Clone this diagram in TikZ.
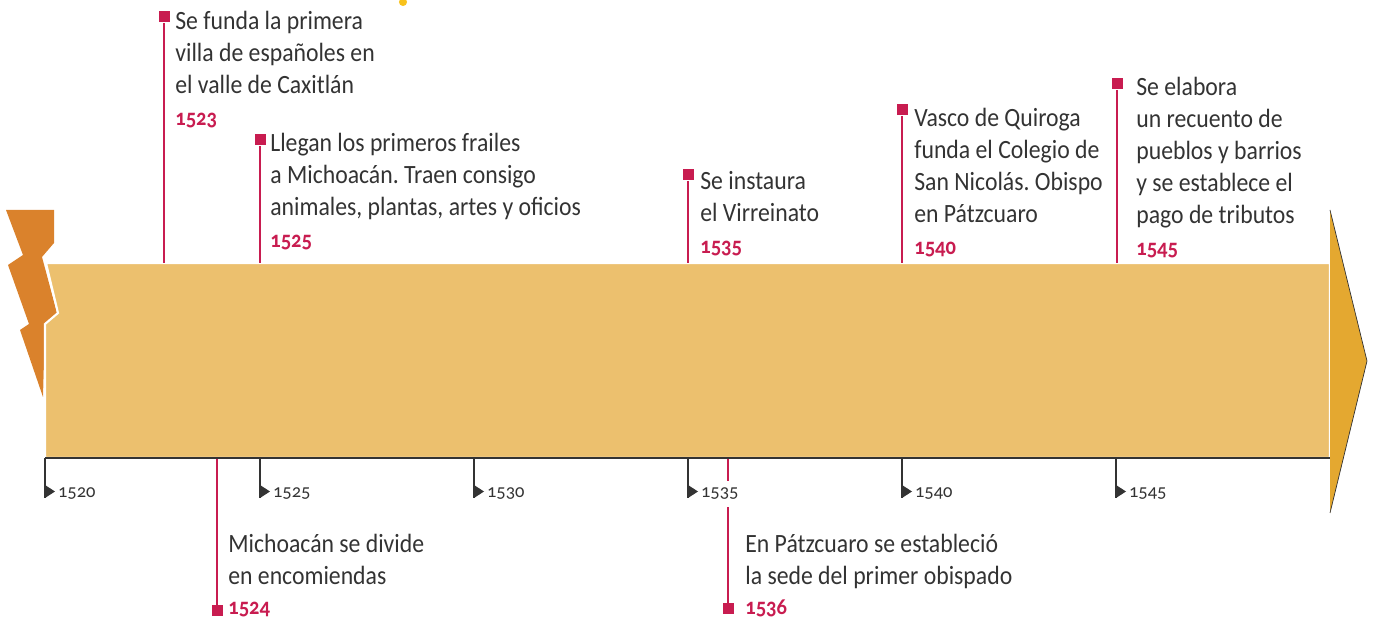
\documentclass[tikz,border=0pt]{standalone}
\usepackage{fontspec}
\setmainfont{Carlito}[Numbers=OldStyle]
\newfontfamily\eventfont{Carlito}[FakeStretch=0.9, Numbers=OldStyle]
\frenchspacing

\definecolor{barfill}{HTML}{ECC06E}
\definecolor{headfill}{HTML}{E4A830}
\definecolor{boltorange}{HTML}{DA822C}
\definecolor{crimson}{HTML}{C81C50}
\definecolor{textgray}{HTML}{333333}
\definecolor{dotyellow}{HTML}{F8C21C}

\tikzset{
  event/.style={anchor=north west, inner sep=0pt, align=left, text=textgray,
    font=\eventfont\fontsize{15}{18.2}\selectfont},
  stem/.style={crimson, line width=1.1pt},
  marker/.style={fill=crimson, inner sep=0pt, minimum size=0.22cm},
  tick/.style={textgray, line width=0.6pt},
  ticklabel/.style={anchor=west, inner xsep=1pt, inner ysep=4pt, fill=white, text=textgray,
    font=\fontsize{10.5}{12}\selectfont},
}
\newcommand{\yr}[1]{{\fontsize{13}{15}\selectfont\bfseries\color{crimson}#1}}

\begin{document}
\begin{tikzpicture}[x=0.02cm, y=-0.02cm]
  \useasboundingbox (0,0) rectangle (1374,621);

  \fill[dotyellow] (403,2) circle (2.3pt);

  % bolt and bar
  \fill[boltorange] (6,210) -- (54,210) -- (54,243) -- (42,257) -- (57,313) -- (45,325)
    -- (43,397) -- (20,330) -- (29,324) -- (8,265) -- (23,255) -- cycle;
  \filldraw[barfill, draw=white, line width=1.2pt] (46,263) -- (1330,263) -- (1330,458)
    -- (45,458) -- (45,324) -- (58,313) -- cycle;
  \draw[textgray, line width=1.1pt] (45,458) -- (1330,458);
  \fill[headfill] (1330,210) -- (1367,361) -- (1330,513) -- cycle;
  \draw[textgray, line width=0.4pt] (1330,210) -- (1367,361) -- (1330,513);

  % events above the bar
  \node[marker] (m1523) at (164,17) {};
  \coordinate (b1523) at (164,263);
  \draw[stem] (m1523) -- (b1523);
  \node[event] (e1523) at (175,11) {Se funda la primera\\villa de españoles en\\el valle de Caxitlán\\[0pt]\yr{1523}};

  \node[marker] (m1525) at (260,140) {};
  \coordinate (b1525) at (260,263);
  \draw[stem] (m1525) -- (b1525);
  \node[event] (e1525) at (270,133) {Llegan los primeros frailes\\a Michoacán. Traen consigo\\animales, plantas, artes y oficios\\[0pt]\yr{1525}};

  \node[marker] (m1535) at (688,175) {};
  \coordinate (b1535) at (688,263);
  \draw[stem] (m1535) -- (b1535);
  \node[event] (e1535) at (700,171) {Se instaura\\el Virreinato\\[0pt]\yr{1535}};

  \node[marker] (m1540) at (902,110) {};
  \coordinate (b1540) at (902,263);
  \draw[stem] (m1540) -- (b1540);
  \node[event] (e1540) at (914,108) {Vasco de Quiroga\\funda el Colegio de\\San Nicolás. Obispo\\en Pátzcuaro\\[0pt]\yr{1540}};

  \node[marker] (m1545) at (1117,84) {};
  \coordinate (b1545) at (1117,263);
  \draw[stem] (m1545) -- (b1545);
  \node[event] (e1545) at (1136,77) {Se elabora\\un recuento de\\pueblos y barrios\\y se establece el\\pago de tributos\\[0pt]\yr{1545}};

  % events below the bar
  \node[marker] (m1524) at (217,611) {};
  \coordinate (b1524) at (217,459);
  \draw[stem] (m1524) -- (b1524);
  \node[event] (e1524) at (228,534) {Michoacán se divide\\en encomiendas\\[-1pt]\yr{1524}};

  \node[marker] (m1536) at (728,609) {};
  \coordinate (b1536) at (728,459);
  \draw[stem] (m1536) -- (b1536);
  \node[event] (e1536) at (745,534) {En Pátzcuaro se estableció\\la sede del primer obispado\\[-1pt]\yr{1536}};

  % year ticks
  \coordinate (k1520) at (45,458);
  \draw[tick] (k1520) -- ++(0,40);
  \node[ticklabel] (l1520) at (56,494) {1520};
  \fill[textgray] (45,485) -- (55,491.5) -- (45,498) -- cycle;

  \coordinate (k1525) at (260,458);
  \draw[tick] (k1525) -- ++(0,40);
  \node[ticklabel] (l1525) at (271,494) {1525};
  \fill[textgray] (260,485) -- (270,491.5) -- (260,498) -- cycle;

  \coordinate (k1530) at (474,458);
  \draw[tick] (k1530) -- ++(0,40);
  \node[ticklabel] (l1530) at (485,494) {1530};
  \fill[textgray] (474,485) -- (484,491.5) -- (474,498) -- cycle;

  \coordinate (k1535) at (688,458);
  \draw[tick] (k1535) -- ++(0,40);
  \node[ticklabel] (l1535) at (699,494) {1535};
  \fill[textgray] (688,485) -- (698,491.5) -- (688,498) -- cycle;

  \coordinate (k1540) at (902,458);
  \draw[tick] (k1540) -- ++(0,40);
  \node[ticklabel] (l1540) at (913,494) {1540};
  \fill[textgray] (902,485) -- (912,491.5) -- (902,498) -- cycle;

  \coordinate (k1545) at (1116,458);
  \draw[tick] (k1545) -- ++(0,40);
  \node[ticklabel] (l1545) at (1127,494) {1545};
  \fill[textgray] (1116,485) -- (1126,491.5) -- (1116,498) -- cycle;
\end{tikzpicture}
\end{document}
